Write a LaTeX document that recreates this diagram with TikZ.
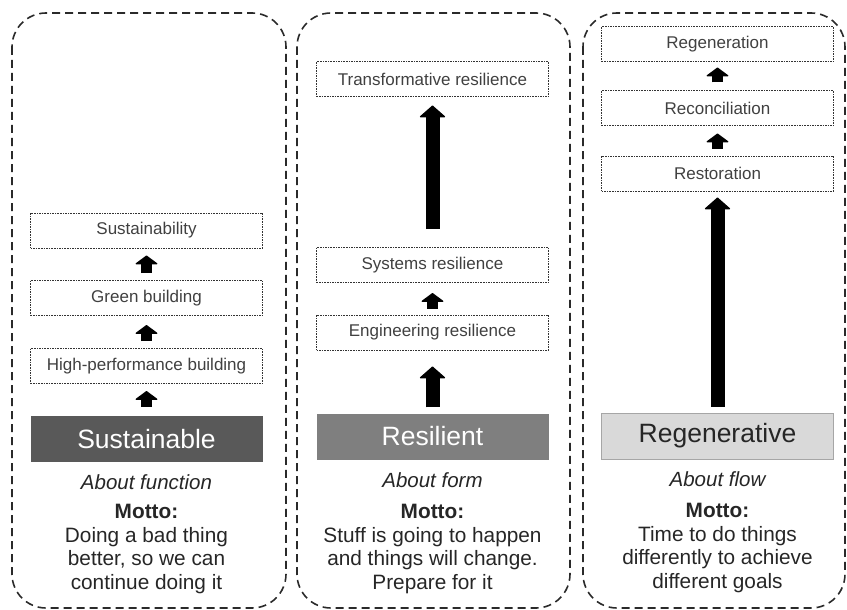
\documentclass[tikz,border=0pt]{standalone}
\usepackage{fontspec}
\setmainfont{Liberation Sans}
\usepackage{xcolor}
\usepackage{tikz}
\usetikzlibrary{arrows.meta}
\definecolor{rimgray}{HTML}{2A2A2A}
\definecolor{boxgray}{HTML}{333333}
\definecolor{textgray}{HTML}{404040}
\definecolor{darkfill}{HTML}{595959}
\definecolor{midfill}{HTML}{7F7F7F}
\definecolor{lightfill}{HTML}{D9D9D9}
\definecolor{lightrim}{HTML}{A6A6A6}
\tikzstyle{panel}=[draw=rimgray, line width=1.6pt, dash pattern=on 8pt off 5pt, rounded corners=34pt]
\tikzstyle{stage}=[draw=boxgray, line width=1pt, dash pattern=on 1.6pt off 1pt, minimum width=232pt, minimum height=35pt, inner sep=0pt, text=textgray, font=\fontsize{17}{20}\selectfont]
\tikzstyle{headbox}=[minimum width=232pt, minimum height=46pt, inner sep=0pt, font=\fontsize{26.5}{30}\selectfont]
\tikzstyle{about}=[text=black!85, font=\fontsize{20.5}{24}\selectfont\itshape]
\tikzstyle{motto}=[align=center, text=black!85, font=\fontsize{20.8}{23.5}\selectfont]
\tikzstyle{smallup}=[line width=11pt, -{Triangle[width=24pt,length=9pt,line width=1.2pt,round]}]
\tikzstyle{bigup}=[line width=14pt, -{Triangle[width=27pt,length=12pt,line width=1.2pt,round]}]

\begin{document}
\begin{tikzpicture}[x=1pt, y=-1pt]
    \useasboundingbox (0,0) rectangle (847,610);
    % the three panels
    \draw[panel] (12,13) rectangle (286,608);
    \draw[panel] (297,13) rectangle (570,608);
    \draw[panel] (583,13) rectangle (845,608);

    % sustainable
    \node[stage] (sustainability) at (146.5,230.5) {Sustainability};
    \node[stage] (green) at (146.5,298) {Green building};
    \node[stage] (highperf) at (146.5,366) {High-performance building};
    \node[headbox, fill=darkfill, text=white] (sustainable) at (146.5,439) {Sustainable};
    \node[about] (aboutfunction) at (146.5,482) {About function};
    \node[motto] (mottoone) at (146.5,549) {\textbf{Motto:}\\Doing a bad thing\\better, so we can\\continue doing it};
    \draw[smallup, shorten <=9pt, shorten >=7pt] (sustainable.north) -- (highperf.south);
    \draw[smallup, shorten <=7pt, shorten >=9pt] (highperf.north) -- (green.south);
    \draw[smallup, shorten <=7pt, shorten >=7pt] (green.north) -- (sustainability.south);

    % resilient
    \node[stage] (transformative) at (432.5,79.5) {Transformative resilience};
    \node[stage] (systems) at (432.5,265) {Systems resilience};
    \node[stage] (engineering) at (432.5,332.5) {Engineering resilience};
    \node[headbox, fill=midfill, text=white] (resilient) at (432.5,436.5) {Resilient};
    \node[about] (aboutform) at (432.5,480) {About form};
    \node[motto] (mottotwo) at (432.5,549) {\textbf{Motto:}\\Stuff is going to happen\\and things will change.\\Prepare for it};
    \draw[bigup, shorten <=6pt, shorten >=16pt] (resilient.north) -- (engineering.south);
    \draw[smallup, shorten <=6pt, shorten >=10pt] (engineering.north) -- (systems.south);
    \draw[bigup, shorten <=18pt, shorten >=8pt] (systems.north) -- (transformative.south);

    % regenerative
    \node[stage] (regeneration) at (717.5,44.5) {Regeneration};
    \node[stage] (reconciliation) at (717.5,108.5) {Reconciliation};
    \node[stage] (restoration) at (717.5,173.5) {Restoration};
    \node[headbox, fill=lightfill, draw=lightrim, line width=1pt, text=black!85] (regenerative) at (717.5,436) {Regenerative};
    \node[about] (aboutflow) at (717.5,479) {About flow};
    \node[motto] (mottothree) at (717.5,548) {\textbf{Motto:}\\Time to do things\\differently to achieve\\different goals};
    \draw[bigup, shorten <=6pt, shorten >=6pt] (regenerative.north) -- (restoration.south);
    \draw[smallup, shorten <=7pt, shorten >=7pt] (restoration.north) -- (reconciliation.south);
    \draw[smallup, shorten <=8pt, shorten >=5pt] (reconciliation.north) -- (regeneration.south);
\end{tikzpicture}
\end{document}
